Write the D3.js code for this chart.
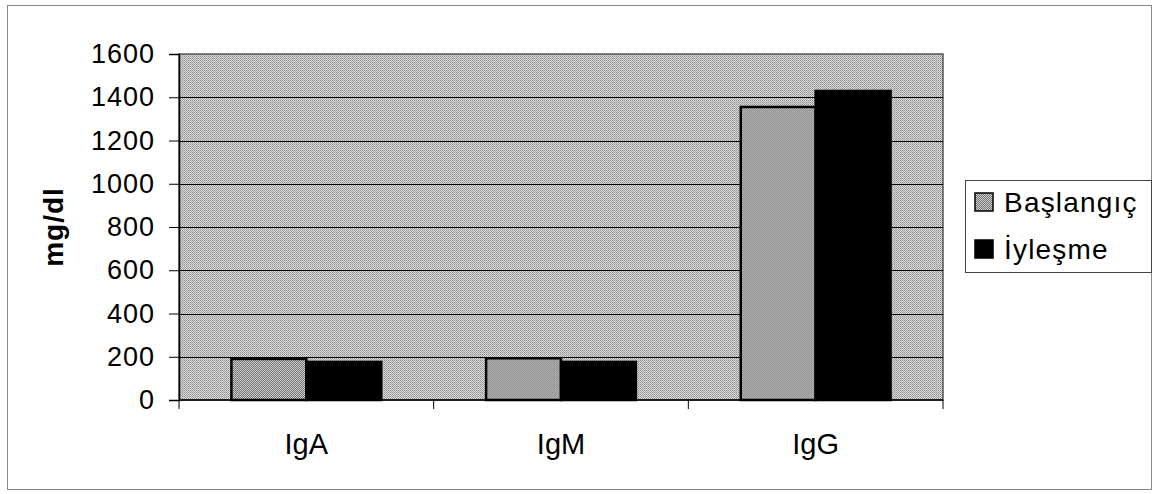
<!DOCTYPE html>
<html>
<head>
<meta charset="utf-8">
<script src="https://cdn.jsdelivr.net/npm/d3@7"></script>
<style>
  body { margin: 0; background: #fff; }
  svg { display: block; font-family: Arial, "Liberation Sans", sans-serif; }
</style>
</head>
<body>
<div id="chart"></div>
<script>
// chart data
const categories = ['IgA', 'IgM', 'IgG'];
const seriesNames = ['Başlangıç', 'İyleşme'];
const baslangic = [190, 193, 1355];
const iyilesme = [176, 176, 1429];
const yTicks = [0, 200, 400, 600, 800, 1000, 1200, 1400, 1600];

const width = 1157;
const height = 494;
const plot = { left: 179, top: 54, right: 943, bottom: 400 };
const colors = ['url(#dither)', '#000'];

const svg = d3.select('#chart')
    .append('svg')
    .attr('width', width)
    .attr('height', height);

// dithered gray textures
const defs = svg.append('defs');
const bgPat = defs.append('pattern')
    .attr('id', 'bgdither')
    .attr('width', 2).attr('height', 2)
    .attr('patternUnits', 'userSpaceOnUse');
bgPat.append('rect').attr('width', 2).attr('height', 2).attr('fill', '#d8d8d8');
bgPat.append('rect').attr('width', 1).attr('height', 1).attr('fill', '#929292');
bgPat.append('rect').attr('x', 1).attr('y', 1).attr('width', 1).attr('height', 1).attr('fill', '#a8a8a8');

const barPat = defs.append('pattern')
    .attr('id', 'dither')
    .attr('width', 2).attr('height', 2)
    .attr('patternUnits', 'userSpaceOnUse');
barPat.append('rect').attr('width', 2).attr('height', 2).attr('fill', '#cccccc');
barPat.append('rect').attr('width', 1).attr('height', 1).attr('fill', '#717171');
barPat.append('rect').attr('x', 1).attr('y', 1).attr('width', 1).attr('height', 1).attr('fill', '#7c7c7c');

// outer frame
svg.append('rect')
    .attr('x', 7.5).attr('y', 5.5)
    .attr('width', 1144).attr('height', 484)
    .attr('fill', 'none')
    .attr('stroke', '#888')
    .attr('stroke-width', 1);

// scales
const x0 = d3.scaleBand()
    .domain(categories)
    .range([plot.left, plot.right])
    .paddingInner(0)
    .paddingOuter(0);

const x1 = d3.scaleBand()
    .domain(seriesNames)
    .range([0, x0.bandwidth()])
    .paddingOuter(0.7)
    .paddingInner(0);

const y = d3.scaleLinear()
    .domain([0, 1600])
    .range([plot.bottom, plot.top]);

// plot background
svg.append('rect')
    .attr('x', plot.left).attr('y', plot.top)
    .attr('width', plot.right - plot.left)
    .attr('height', plot.bottom - plot.top)
    .attr('fill', 'url(#bgdither)')
    .attr('stroke', '#555')
    .attr('stroke-width', 1.5);

// gridlines
svg.append('g')
    .selectAll('line')
    .data(yTicks.slice(1, -1))
    .enter().append('line')
    .attr('x1', plot.left).attr('x2', plot.right)
    .attr('y1', d => Math.round(y(d)) + 0.5)
    .attr('y2', d => Math.round(y(d)) + 0.5)
    .attr('stroke', '#000')
    .attr('stroke-width', 1);

// bars
const rows = categories.map((c, i) => ({ cat: c, values: [baslangic[i], iyilesme[i]] }));

const groups = svg.append('g')
    .selectAll('g')
    .data(rows)
    .enter().append('g')
    .attr('transform', d => `translate(${x0(d.cat)},0)`);

groups.selectAll('rect')
    .data(d => d.values.map((v, j) => ({ key: seriesNames[j], value: v, j: j })))
    .enter().append('rect')
    .attr('x', d => x1(d.key))
    .attr('y', d => y(d.value))
    .attr('width', x1.bandwidth())
    .attr('height', d => y(0) - y(d.value))
    .attr('fill', d => colors[d.j])
    .attr('stroke', '#000')
    .attr('stroke-width', 2.5);

// y axis
const yAxis = svg.append('g')
    .attr('transform', `translate(${plot.left},0)`)
    .call(d3.axisLeft(y).tickValues(yTicks).tickSize(10).tickPadding(14).tickFormat(d3.format('d')));
yAxis.select('.domain').attr('stroke', '#000').attr('stroke-width', 1.5);
yAxis.selectAll('.tick line').attr('stroke', '#000');
yAxis.selectAll('text')
    .attr('fill', '#000')
    .style('font-size', '27px')
    .style('letter-spacing', '1px');

// x axis with ticks at category boundaries
const xAxis = svg.append('g')
    .attr('transform', `translate(0,${plot.bottom})`);
xAxis.append('line')
    .attr('x1', plot.left).attr('x2', plot.right)
    .attr('stroke', '#000').attr('stroke-width', 1.5);
xAxis.selectAll('line.tk')
    .data(categories.map(c => x0(c)).concat([plot.right]))
    .enter().append('line')
    .attr('class', 'tk')
    .attr('x1', d => d).attr('x2', d => d)
    .attr('y1', 0).attr('y2', 9)
    .attr('stroke', '#000');
xAxis.selectAll('text')
    .data(categories)
    .enter().append('text')
    .attr('x', d => x0(d) + x0.bandwidth() / 2)
    .attr('y', 54)
    .attr('text-anchor', 'middle')
    .style('font-size', '29px')
    .text(d => d);

// y axis title
svg.append('text')
    .attr('transform', `translate(63,${(plot.top + plot.bottom) / 2}) rotate(-90)`)
    .attr('text-anchor', 'middle')
    .style('font-size', '28px')
    .style('font-weight', 'bold')
    .style('letter-spacing', '1px')
    .text('mg/dl');

// legend
const legend = svg.append('g').attr('transform', 'translate(965,180)');
legend.append('rect')
    .attr('x', 0.5).attr('y', 0.5)
    .attr('width', 186).attr('height', 92)
    .attr('fill', '#fff')
    .attr('stroke', '#444');

const items = legend.selectAll('g.item')
    .data(seriesNames)
    .enter().append('g')
    .attr('class', 'item')
    .attr('transform', (d, i) => `translate(10,${32 + i * 47})`);
items.append('rect')
    .attr('x', 0).attr('y', -19)
    .attr('width', 18).attr('height', 18)
    .attr('fill', (d, i) => colors[i])
    .attr('stroke', '#000')
    .attr('stroke-width', 1.5);
items.append('text')
    .attr('x', 29)
    .attr('y', 0)
    .style('font-size', '28px')
    .style('letter-spacing', '1.2px')
    .text(d => d);
</script>
</body>
</html>
